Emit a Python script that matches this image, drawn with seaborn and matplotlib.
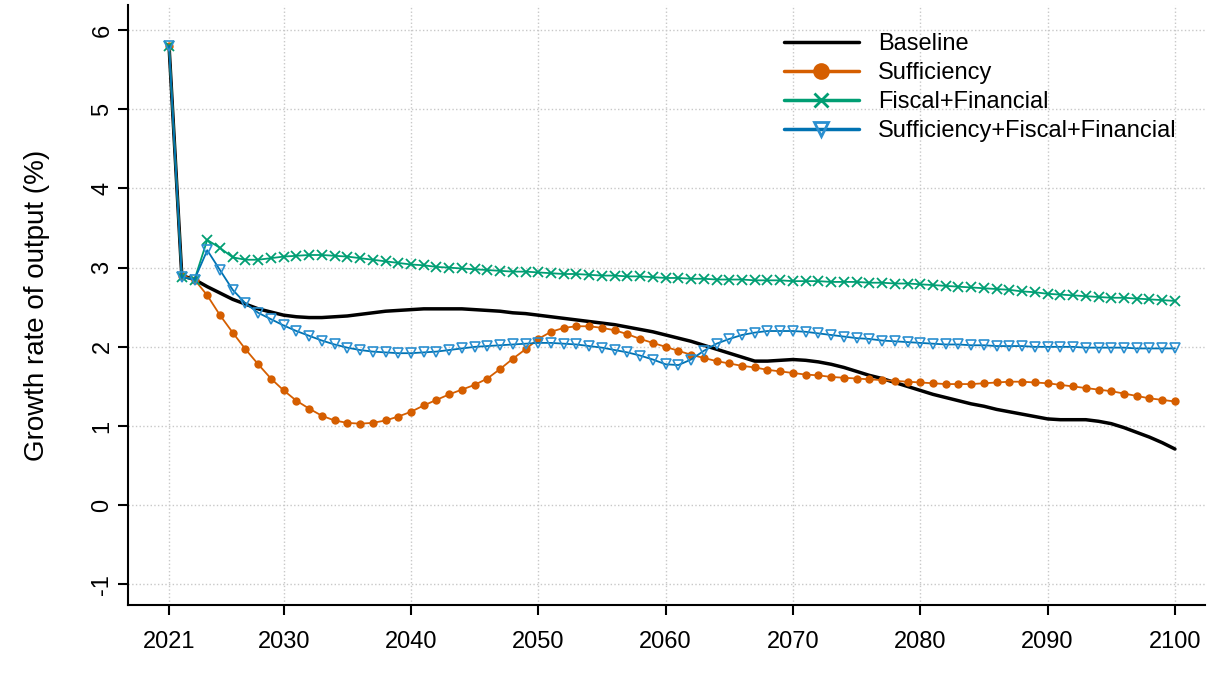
import numpy as np
import pandas as pd
import matplotlib
matplotlib.use("Agg")
import matplotlib.pyplot as plt
import seaborn as sns

years = list(range(2021, 2101))
baseline = [5.8, 2.9, 2.85, 2.76, 2.68, 2.6, 2.54, 2.48, 2.44, 2.4,
            2.38, 2.37, 2.37, 2.38, 2.39, 2.41, 2.43, 2.45, 2.46, 2.47,
            2.48, 2.48, 2.48, 2.48, 2.47, 2.46, 2.45, 2.43, 2.42, 2.4,
            2.38, 2.36, 2.34, 2.32, 2.3, 2.28, 2.25, 2.22, 2.19, 2.15,
            2.11, 2.07, 2.02, 1.97, 1.92, 1.87, 1.82, 1.82, 1.83, 1.84,
            1.83, 1.81, 1.78, 1.74, 1.69, 1.64, 1.6, 1.55, 1.5, 1.45,
            1.4, 1.36, 1.32, 1.28, 1.25, 1.21, 1.18, 1.15, 1.12, 1.09,
            1.08, 1.08, 1.08, 1.06, 1.03, 0.98, 0.92, 0.86, 0.79, 0.71]
sufficiency = [5.8, 2.9, 2.85, 2.65, 2.4, 2.18, 1.97, 1.78, 1.6, 1.45,
               1.32, 1.22, 1.13, 1.07, 1.04, 1.03, 1.04, 1.07, 1.12, 1.18,
               1.26, 1.33, 1.4, 1.46, 1.52, 1.6, 1.72, 1.85, 1.97, 2.1,
               2.19, 2.24, 2.26, 2.26, 2.24, 2.21, 2.16, 2.1, 2.05, 2.0,
               1.95, 1.9, 1.86, 1.82, 1.79, 1.76, 1.74, 1.71, 1.69, 1.67,
               1.65, 1.64, 1.62, 1.61, 1.6, 1.59, 1.58, 1.57, 1.56, 1.55,
               1.54, 1.53, 1.53, 1.53, 1.54, 1.55, 1.56, 1.56, 1.55, 1.54,
               1.52, 1.5, 1.48, 1.46, 1.44, 1.41, 1.38, 1.35, 1.33, 1.31]
fiscal = [5.8, 2.88, 2.85, 3.35, 3.25, 3.13, 3.1, 3.1, 3.12, 3.14,
          3.15, 3.16, 3.16, 3.15, 3.14, 3.12, 3.1, 3.08, 3.06, 3.04,
          3.03, 3.01, 3.0, 2.99, 2.98, 2.97, 2.96, 2.95, 2.95, 2.94,
          2.93, 2.92, 2.92, 2.91, 2.9, 2.9, 2.89, 2.89, 2.88, 2.87,
          2.87, 2.86, 2.86, 2.85, 2.85, 2.85, 2.84, 2.84, 2.84, 2.83,
          2.83, 2.83, 2.82, 2.82, 2.82, 2.81, 2.81, 2.8, 2.8, 2.79,
          2.78, 2.77, 2.76, 2.75, 2.74, 2.73, 2.72, 2.7, 2.69, 2.67,
          2.66, 2.65, 2.64, 2.63, 2.62, 2.62, 2.61, 2.6, 2.59, 2.58]
sff = [5.8, 2.88, 2.85, 3.22, 2.97, 2.72, 2.55, 2.43, 2.35, 2.27,
       2.2, 2.14, 2.08, 2.03, 1.99, 1.96, 1.94, 1.93, 1.92, 1.92,
       1.93, 1.94, 1.96, 1.98, 2.0, 2.01, 2.02, 2.03, 2.04, 2.05,
       2.05, 2.04, 2.03, 2.01, 1.99, 1.96, 1.93, 1.89, 1.84, 1.78,
       1.77, 1.84, 1.95, 2.04, 2.1, 2.15, 2.18, 2.2, 2.2, 2.2,
       2.19, 2.17, 2.15, 2.13, 2.11, 2.1, 2.08, 2.07, 2.06, 2.05,
       2.04, 2.03, 2.03, 2.02, 2.02, 2.01, 2.01, 2.01, 2.0, 2.0,
       2.0, 2.0, 1.99, 1.99, 1.99, 1.99, 1.98, 1.98, 1.98, 1.98]

xticks = [2021, 2030, 2040, 2050, 2060, 2070, 2080, 2090, 2100]
yticks = [-1, 0, 1, 2, 3, 4, 5, 6]

sns.set_theme(style="white")
plt.rcParams['font.family'] = ['Liberation Sans', 'DejaVu Sans']

fig = plt.figure(figsize=(12.08, 6.81), dpi=100)
ax = fig.add_axes([0.106, 0.1116, 0.8915, 0.8814])

ax.grid(True, color="#c8c8c8", linestyle=":", linewidth=1)
ax.set_axisbelow(True)

df = pd.DataFrame({"year": years, "b": baseline, "s": sufficiency, "f": fiscal, "sff": sff})
sns.lineplot(data=df, x="year", y="b", ax=ax, color="black", lw=2.5, label="Baseline")
ax.plot(df["year"], df["s"], color="#D55E00", lw=1.3, marker="o",
        markersize=6, markeredgewidth=0, label="Sufficiency")
ax.plot(df["year"], df["f"], color="#009E73", lw=1.3, marker="x",
        markersize=7, markeredgewidth=1.3, label="Fiscal+Financial")
ax.plot(df["year"], df["sff"], color="#0072B2", lw=1.3, marker="v",
        markersize=6.5, markerfacecolor="none", markeredgecolor="#2a8fd0",
        markeredgewidth=1.2, label="Sufficiency+Fiscal+Financial")

ax.set_xlim(2017.78, 2102.36)
ax.set_ylim(-1.26, 6.32)
ax.set_xticks(xticks)
ax.set_yticks(yticks)
ax.set_yticklabels([str(t) for t in yticks], rotation=90, va="center")
ax.tick_params(axis="both", labelsize=17, length=7, width=1.5, direction="out",
               bottom=True, left=True, colors="black")
ax.tick_params(axis="x", pad=12)
ax.set_ylabel("Growth rate of output (%)", fontsize=20, color="black", labelpad=30)
ax.set_xlabel("")
for s in ["top", "right"]:
    ax.spines[s].set_visible(False)
for s in ["left", "bottom"]:
    ax.spines[s].set_color("black")
    ax.spines[s].set_linewidth(1.5)

leg = ax.legend(loc="upper right", frameon=False, fontsize=17, handlelength=3.2,
                borderaxespad=0.8, labelspacing=0.3, bbox_to_anchor=(1.0, 1.0))
for t in leg.get_texts():
    t.set_color("black")
for h in leg.get_lines():
    h.set_linewidth(2.5)
    h.set_markersize(10)
    h.set_markeredgewidth(2)

fig.savefig("out.png", dpi=100)
